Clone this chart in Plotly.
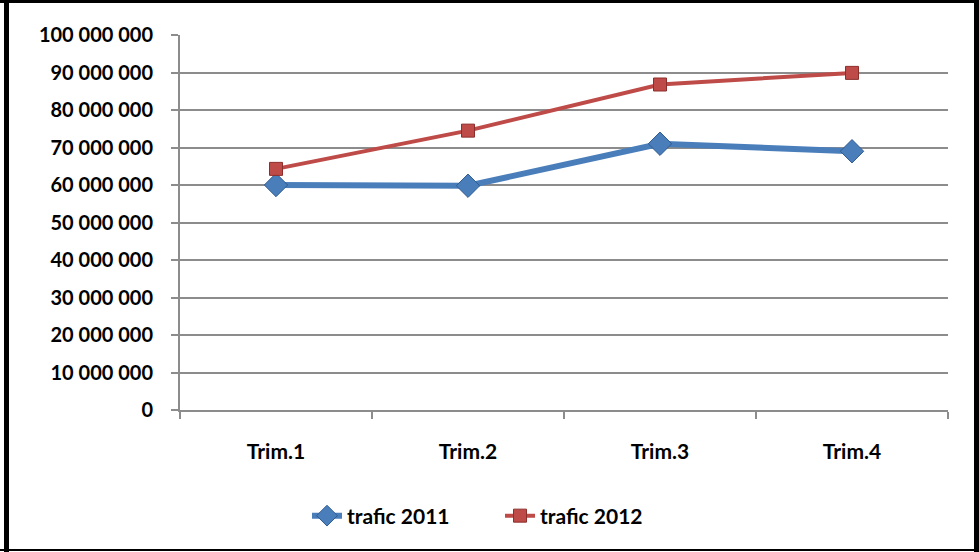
import plotly.graph_objects as go

# Data
quarters = ["Trim.1", "Trim.2", "Trim.3", "Trim.4"]
trafic_2011 = [60_000_000, 59_800_000, 71_000_000, 69_000_000]
trafic_2012 = [64_300_000, 74_500_000, 86_800_000, 89_900_000]
y_ticks = list(range(0, 100_000_001, 10_000_000))

_BLUE = "#4A7EBB"
_RED = "#BE4B48"
_GRID = "#8C8C8C"
_FONT = "Lato, 'Open Sans', Arial, sans-serif"

W, H = 979, 552
L, R, T, B = 180, 31, 35, 142
pw, ph = W - L - R, H - T - B


def px(x):
    return (x - L) / pw


def py(y):
    return (H - B - y) / ph


fig = go.Figure()

fig.add_trace(go.Scatter(
    x=quarters,
    y=trafic_2011,
    mode="lines+markers",
    name="trafic 2011",
    line=dict(color=_BLUE, width=6),
    marker=dict(symbol="diamond", size=18, color=_BLUE,
                line=dict(color="#2F5B8F", width=1)),
))
fig.add_trace(go.Scatter(
    x=quarters,
    y=trafic_2012,
    mode="lines+markers",
    name="trafic 2012",
    line=dict(color=_RED, width=4),
    marker=dict(symbol="square", size=13, color=_RED,
                line=dict(color="#8C2E2B", width=1)),
))

# Outer frame
frame = [
    (4, 0, 9, H),        # left
    (0, 0, W, 3),        # top
    (974, 0, W, H),      # right
    (0, 549, W, 551),    # bottom
]
shapes = []
for x0, y0, x1, y1 in frame:
    shapes.append(dict(
        type="rect", xref="paper", yref="paper",
        x0=px(x0), x1=px(x1), y0=py(y1), y1=py(y0),
        fillcolor="black", line=dict(width=0), layer="above",
    ))

fig.update_layout(
    width=W,
    height=H,
    margin=dict(l=L, r=R, t=T, b=B, autoexpand=False),
    plot_bgcolor="white",
    paper_bgcolor="white",
    separators=". ",
    font=dict(family=_FONT, size=20, color="black"),
    showlegend=True,
    legend=dict(
        orientation="h", xref="container", yref="container",
        x=307 / W, xanchor="left",
        y=(H - 516) / H, yanchor="middle",
        font=dict(family=_FONT, size=21, color="black", weight="bold"),
        entrywidth=148,
    ),
    shapes=shapes,
)
fig.update_xaxes(
    type="category",
    range=[-0.5, 3.5],
    automargin=False,
    showgrid=False,
    showline=True, linecolor=_GRID, linewidth=2,
    ticks="outside", tickson="boundaries", ticklen=7, tickcolor=_GRID, tickwidth=2,
    ticklabelstandoff=22,
    tickfont=dict(family=_FONT, size=21, color="black", weight="bold"),
)
fig.update_yaxes(
    range=[0, 100_000_000],
    automargin=False,
    tickvals=y_ticks,
    tickformat=",d",
    showgrid=True, gridcolor=_GRID, gridwidth=2,
    showline=True, linecolor=_GRID, linewidth=2,
    ticks="outside", ticklen=7, tickcolor=_GRID, tickwidth=2,
    ticklabelstandoff=14,
    zeroline=False,
    tickfont=dict(family=_FONT, size=20, color="black", weight="bold"),
)

# drop the browser's default body margin so the figure sits at the page origin
fig.write_html(
    "out.html",
    config={"displayModeBar": False},
    post_script="document.body.style.margin='0';",
)
